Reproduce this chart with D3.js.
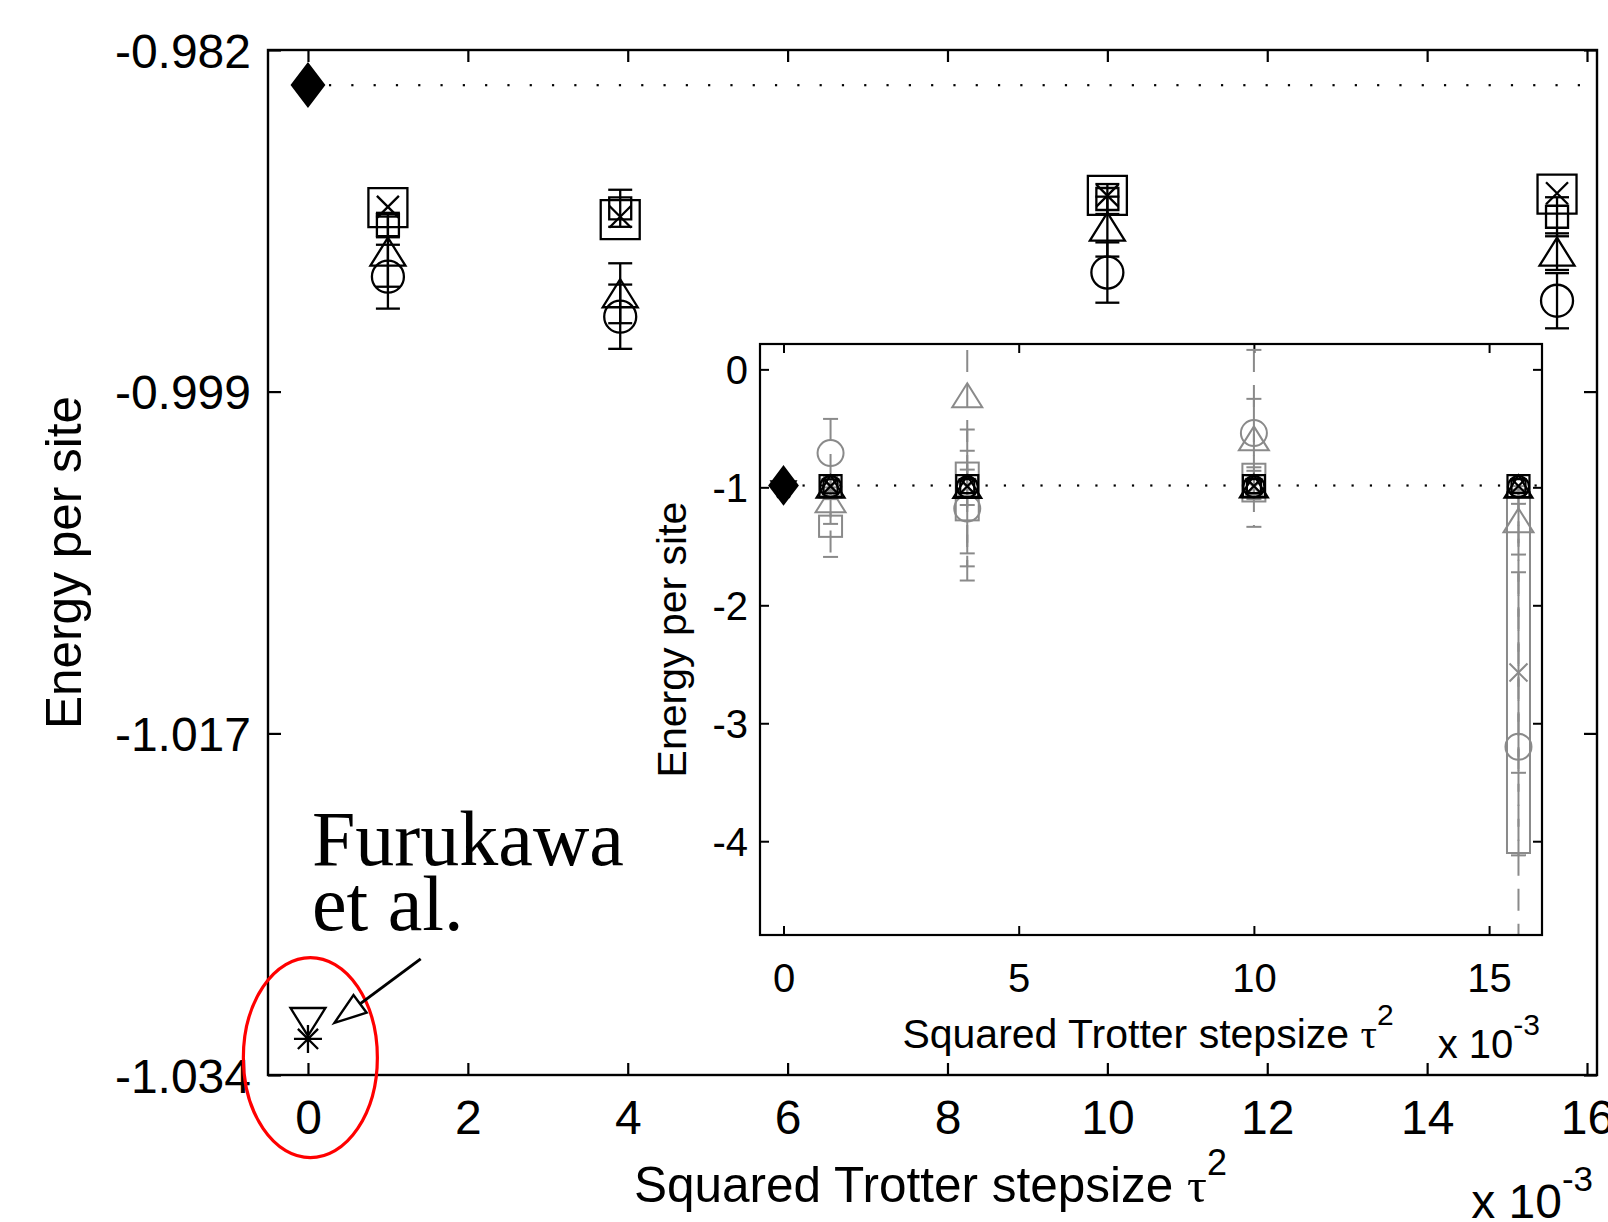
<!DOCTYPE html>
<html>
<head>
<meta charset="utf-8">
<script src="https://cdn.jsdelivr.net/npm/d3@7"></script>
<style>
  body { margin: 0; background: #fff; }
  svg { display: block; font-family: "Liberation Sans", Arial, sans-serif; }
  text { fill: #000; }
</style>
</head>
<body>
<svg id="chart"></svg>
<script>
// ---- data (tau^2 in units of 1e-3, energies per site) ----
const tau2 = [1, 3.906, 10, 15.625];

const bigSquare = [-0.99000, -0.99061, -0.98938, -0.98931];
const crossE = [-0.98996, -0.99046, -0.98939, -0.98927];
const smallSquare = [-0.99088, -0.99003, -0.98956, -0.99046];
const smallSquareErr = [0.00062, 0.00094, 0.00076, 0.00099];
const triangleE = [-0.99223, -0.99434, -0.99096, -0.99223];
const triangleErr = [0.00178, 0.00152, 0.00152, 0.00093];
const circleE = [-0.99350, -0.99553, -0.99329, -0.99472];
const circleErr = [0.00162, 0.00163, 0.00153, 0.00140];

const exactE = -0.98378;          // filled diamond at tau2 = 0
const furukawaTri = -1.03131;     // Furukawa et al.
const furukawaStar = -1.03217;

// inset, grey series
const grayCircle = [-0.71, -1.18, -0.54, -3.20];
const grayCircleErr = [0.29, 0.49, 0.29, 2.06];
const grayTriangle = [-1.11, -0.22, -0.585, -1.28];
const grayTriangleErr = [0.20, 1.57, 0.75, 0.29];
const grayCross = [-1.00, -1.00, -1.00, -2.57];
const grayCrossErr = [0.10, 0.15, 0.10, 1.55];
const graySquare = [-1.33, -1.035, -0.96, -2.57];
const graySquareErr = [0.26, 0.525, 0.10, 0.85];
const grayBoxTop = [-1.24, -0.79, -0.80, -1.04];
const grayBoxBottom = [-1.42, -1.28, -1.12, -4.10];

const mainXTicks = [0, 2, 4, 6, 8, 10, 12, 14, 16];
const mainYTicks = [-0.982, -0.99933, -1.01667, -1.034];
const mainYTickLabels = ['-0.982', '-0.999', '-1.017', '-1.034'];
const insetXTicks = [0, 5, 10, 15];
const insetYTicks = [0, -1, -2, -3, -4];

const W = 1608, H = 1222;
const GRAY = '#8a8a8a';
const serif = '"Liberation Serif", "Times New Roman", serif';

const svg = d3.select('#chart').attr('width', W).attr('height', H);

// ---- marker shapes, size s in px ----
function markerPath(type, s) {
  const h = s / 2;
  if (type === 'circle') return `M${h},0A${h},${h} 0 1,1 ${-h},0A${h},${h} 0 1,1 ${h},0Z`;
  if (type === 'square') return `M${-h},${-h}H${h}V${h}H${-h}Z`;
  if (type === 'triangle') { const t = s * 0.4; return `M0,${-t}L${h},${t}L${-h},${t}Z`; }
  if (type === 'triangleDown') { const t = s * 0.4; return `M0,${t}L${h},${-t}L${-h},${-t}Z`; }
  if (type === 'diamond') { const t = s * 0.66; return `M0,${-t}L${h},0L0,${t}L${-h},0Z`; }
  if (type === 'x') return `M${-h},${-h}L${h},${h}M${-h},${h}L${h},${-h}`;
  if (type === 'asterisk') {
    const d = h * 0.72;
    return `M0,${-h}V${h}M${-h},0H${h}M${-d},${-d}L${d},${d}M${-d},${d}L${d},${-d}`;
  }
  return '';
}

function drawErrorBars(g, xs, ys, errs, x, y, opt) {
  const rows = xs.map((v, i) => ({ x: v, y: ys[i], e: errs[i] }));
  const eb = g.append('g').attr('stroke', opt.color).attr('stroke-width', opt.width).attr('fill', 'none');
  eb.selectAll('line.v').data(rows).join('line').attr('class', 'v')
    .attr('x1', d => x(d.x)).attr('x2', d => x(d.x))
    .attr('y1', d => y(d.y + d.e)).attr('y2', d => y(d.y - d.e))
    .attr('stroke-dasharray', opt.dash || null);
  [1, -1].forEach(sgn => {
    const cls = 'c' + (sgn > 0 ? 'u' : 'd');
    eb.selectAll('line.' + cls).data(rows).join('line').attr('class', cls)
      .attr('x1', d => x(d.x) - opt.cap / 2).attr('x2', d => x(d.x) + opt.cap / 2)
      .attr('y1', d => y(d.y + sgn * d.e)).attr('y2', d => y(d.y + sgn * d.e));
  });
}

function drawMarkers(g, xs, ys, x, y, type, size, opt) {
  g.append('g').selectAll('path').data(xs.map((v, i) => [v, ys[i]])).join('path')
    .attr('transform', d => `translate(${x(d[0])},${y(d[1])})`)
    .attr('d', markerPath(type, size))
    .attr('fill', opt.fill || 'none')
    .attr('stroke', opt.color)
    .attr('stroke-width', opt.width);
}

function dottedLine(g, x0, x1, yv, gap) {
  const n = Math.floor((x1 - x0) / gap);
  g.append('g').selectAll('rect').data(d3.range(n + 1)).join('rect')
    .attr('x', i => x0 + i * gap - 1).attr('y', yv - 1)
    .attr('width', 2.2).attr('height', 2.2).attr('fill', '#000');
}

function styleAxis(a, lw, fs) {
  a.select('.domain').remove();
  a.selectAll('line').attr('stroke', '#000').attr('stroke-width', lw);
  a.selectAll('text').attr('font-size', fs).attr('fill', '#000')
    .style('font-family', '"Liberation Sans", Arial, sans-serif');
}

// ================= main axes =================
const M = { left: 268, right: 1597, top: 50, bottom: 1075 };
const x = d3.scaleLinear().domain([-0.5, 16.125]).range([M.left, M.right]);
const y = d3.scaleLinear().domain([-1.034, -0.982]).range([M.bottom, M.top]);

const main = svg.append('g');
main.append('rect').attr('x', M.left).attr('y', M.top)
  .attr('width', M.right - M.left).attr('height', M.bottom - M.top).attr('fill', '#fff');

// ticks (inward, mirrored)
const axB = main.append('g').attr('transform', `translate(0,${M.bottom})`)
  .call(d3.axisBottom(x).tickValues(mainXTicks).tickSizeInner(-12).tickSizeOuter(0).tickFormat(d => String(d)));
const axT = main.append('g').attr('transform', `translate(0,${M.top})`)
  .call(d3.axisTop(x).tickValues(mainXTicks).tickSizeInner(-12).tickSizeOuter(0).tickFormat(''));
const axL = main.append('g').attr('transform', `translate(${M.left},0)`)
  .call(d3.axisLeft(y).tickValues(mainYTicks).tickSizeInner(-13).tickSizeOuter(0)
    .tickFormat((d, i) => mainYTickLabels[i]).tickPadding(17));
const axR = main.append('g').attr('transform', `translate(${M.right},0)`)
  .call(d3.axisRight(y).tickValues(mainYTicks).tickSizeInner(-13).tickSizeOuter(0).tickFormat(''));
[axB, axT, axL, axR].forEach(a => styleAxis(a, 2.2, 48));
axB.selectAll('text').attr('dy', null).attr('y', 59);
axL.selectAll('text').attr('dy', '0.36em');

// dotted reference line
dottedLine(main, x(0) + 22, M.right - 8, y(exactE), 22.3);

// error bars
const LWm = 2.3;
drawErrorBars(main, tau2, circleE, circleErr, x, y, { color: '#000', width: LWm, cap: 24 });
drawErrorBars(main, tau2, triangleE, triangleErr, x, y, { color: '#000', width: LWm, cap: 24 });
drawErrorBars(main, tau2, smallSquare, smallSquareErr, x, y, { color: '#000', width: LWm, cap: 24 });

// markers
drawMarkers(main, tau2, bigSquare, x, y, 'square', 39, { color: '#000', width: LWm });
drawMarkers(main, tau2, smallSquare, x, y, 'square', 22, { color: '#000', width: LWm });
drawMarkers(main, tau2, crossE, x, y, 'x', 22, { color: '#000', width: LWm });
drawMarkers(main, tau2, triangleE, x, y, 'triangle', 35, { color: '#000', width: LWm });
drawMarkers(main, tau2, circleE, x, y, 'circle', 32, { color: '#000', width: LWm });
drawMarkers(main, [0], [exactE], x, y, 'diamond', 32, { color: '#000', width: LWm, fill: '#000' });
drawMarkers(main, [0], [furukawaTri], x, y, 'triangleDown', 35, { color: '#000', width: LWm });
drawMarkers(main, [0], [furukawaStar], x, y, 'asterisk', 28, { color: '#000', width: LWm });

// frame
main.append('rect').attr('x', M.left).attr('y', M.top)
  .attr('width', M.right - M.left).attr('height', M.bottom - M.top)
  .attr('fill', 'none').attr('stroke', '#000').attr('stroke-width', 2.4);

// labels
main.append('text').attr('transform', `translate(64,${(M.top + M.bottom) / 2}) rotate(-90)`)
  .attr('text-anchor', 'middle').attr('dy', '0.35em').attr('font-size', 49.5).text('Energy per site');
const xl = main.append('text').attr('x', (M.left + M.right) / 2 - 2).attr('y', 1202)
  .attr('text-anchor', 'middle').attr('font-size', 49.5);
xl.append('tspan').text('Squared Trotter stepsize ');
xl.append('tspan').style('font-family', serif).text('\u03c4');
xl.append('tspan').attr('font-size', 36).attr('dy', -27).text('2');
const xm = main.append('text').attr('x', M.right - 4).attr('y', 1218).attr('text-anchor', 'end').attr('font-size', 48);
xm.append('tspan').text('x 10');
xm.append('tspan').attr('font-size', 35).attr('dy', -27).text('-3');

// ---- Furukawa annotation ----
const note = { x: 0.05, line1: -1.02334, line2: -1.02664, tip: [0.33, -1.03136], tail: [1.41, -1.02811], ell: [0.03, -1.03312] };
main.append('ellipse').attr('cx', x(note.ell[0])).attr('cy', y(note.ell[1]))
  .attr('rx', 67).attr('ry', 100).attr('fill', 'none').attr('stroke', '#ff0000').attr('stroke-width', 3.2);
main.append('text').attr('x', x(note.x)).attr('y', y(note.line1)).style('font-family', serif)
  .attr('font-size', 78).text('Furukawa');
main.append('text').attr('x', x(note.x)).attr('y', y(note.line2)).style('font-family', serif)
  .attr('font-size', 78).text('et al.');
{
  const tx = x(note.tip[0]), ty = y(note.tip[1]);
  const sx = x(note.tail[0]), sy = y(note.tail[1]);
  const ang = Math.atan2(sy - ty, sx - tx);
  const L = 32, Wd = 11;
  const bx = tx + L * Math.cos(ang), by = ty + L * Math.sin(ang);
  const px = -Math.sin(ang) * Wd, py = Math.cos(ang) * Wd;
  main.append('line').attr('x1', sx).attr('y1', sy).attr('x2', bx).attr('y2', by)
    .attr('stroke', '#000').attr('stroke-width', 3);
  main.append('path').attr('d', `M${tx},${ty}L${bx + px},${by + py}L${bx - px},${by - py}Z`)
    .attr('fill', '#fff').attr('stroke', '#000').attr('stroke-width', 2.4);
}

// ================= inset =================
const I = { left: 760, right: 1542, top: 344, bottom: 935 };
const xi = d3.scaleLinear().domain([-0.5, 16.125]).range([I.left, I.right]);
const yi = d3.scaleLinear().domain([-4.795, 0.215]).range([I.bottom, I.top]);

const inset = svg.append('g');
inset.append('rect').attr('x', I.left).attr('y', I.top)
  .attr('width', I.right - I.left).attr('height', I.bottom - I.top).attr('fill', '#fff');
svg.append('clipPath').attr('id', 'iclip').append('rect')
  .attr('x', I.left).attr('y', I.top).attr('width', I.right - I.left).attr('height', I.bottom - I.top);

const iaB = inset.append('g').attr('transform', `translate(0,${I.bottom})`)
  .call(d3.axisBottom(xi).tickValues(insetXTicks).tickSizeInner(-9).tickSizeOuter(0).tickFormat(d => String(d)));
const iaT = inset.append('g').attr('transform', `translate(0,${I.top})`)
  .call(d3.axisTop(xi).tickValues(insetXTicks).tickSizeInner(-9).tickSizeOuter(0).tickFormat(''));
const iaL = inset.append('g').attr('transform', `translate(${I.left},0)`)
  .call(d3.axisLeft(yi).tickValues(insetYTicks).tickSizeInner(-9).tickSizeOuter(0).tickFormat(d => String(d)).tickPadding(12));
const iaR = inset.append('g').attr('transform', `translate(${I.right},0)`)
  .call(d3.axisRight(yi).tickValues(insetYTicks).tickSizeInner(-9).tickSizeOuter(0).tickFormat(''));
[iaB, iaT, iaL, iaR].forEach(a => styleAxis(a, 2, 40));
iaB.selectAll('text').attr('dy', null).attr('y', 57);
iaL.selectAll('text').attr('dy', '0.36em');

const plotI = inset.append('g').attr('clip-path', 'url(#iclip)');
dottedLine(plotI, xi(0) + 20, I.right - 6, yi(exactE), 18.3);

// grey series with dashed error bars
const LWg = 2;
const dashOpt = { color: GRAY, width: LWg, cap: 15, dash: '22,13' };
drawErrorBars(plotI, tau2, grayTriangle, grayTriangleErr, xi, yi, dashOpt);
drawErrorBars(plotI, tau2, grayCircle, grayCircleErr, xi, yi, dashOpt);
drawErrorBars(plotI, tau2, grayCross, grayCrossErr, xi, yi, dashOpt);
drawErrorBars(plotI, tau2, graySquare, graySquareErr, xi, yi, dashOpt);
plotI.append('g').selectAll('rect').data(tau2.map((v, i) => [v, grayBoxTop[i], grayBoxBottom[i]])).join('rect')
  .attr('x', d => xi(d[0]) - 11.5).attr('width', 23)
  .attr('y', d => yi(d[1])).attr('height', d => yi(d[2]) - yi(d[1]))
  .attr('fill', 'none').attr('stroke', GRAY).attr('stroke-width', LWg);
drawMarkers(plotI, tau2, grayCircle, xi, yi, 'circle', 26, { color: GRAY, width: LWg });
drawMarkers(plotI, tau2, grayTriangle, xi, yi, 'triangle', 30, { color: GRAY, width: LWg });
drawMarkers(plotI, tau2, grayCross, xi, yi, 'x', 18, { color: GRAY, width: LWg });

// black series (main data) at inset scale
const LWi = 2.2;
drawMarkers(plotI, tau2, bigSquare, xi, yi, 'square', 22, { color: '#000', width: LWi });
drawMarkers(plotI, tau2, smallSquare, xi, yi, 'square', 14, { color: '#000', width: LWi });
drawMarkers(plotI, tau2, crossE, xi, yi, 'x', 15, { color: '#000', width: LWi });
drawMarkers(plotI, tau2, triangleE, xi, yi, 'triangle', 28, { color: '#000', width: LWi });
drawMarkers(plotI, tau2, circleE, xi, yi, 'circle', 21, { color: '#000', width: LWi });
drawMarkers(plotI, [0], [furukawaTri], xi, yi, 'triangleDown', 24, { color: '#000', width: LWi });
drawMarkers(plotI, [0], [furukawaStar], xi, yi, 'asterisk', 18, { color: '#000', width: LWi });
drawMarkers(plotI, [0], [exactE], xi, yi, 'diamond', 28, { color: '#000', width: LWi, fill: '#000' });

inset.append('rect').attr('x', I.left).attr('y', I.top)
  .attr('width', I.right - I.left).attr('height', I.bottom - I.top)
  .attr('fill', 'none').attr('stroke', '#000').attr('stroke-width', 2.2);

inset.append('text').attr('transform', `translate(672,${(I.top + I.bottom) / 2}) rotate(-90)`)
  .attr('text-anchor', 'middle').attr('dy', '0.35em').attr('font-size', 41).text('Energy per site');
const ixl = inset.append('text').attr('x', (I.left + I.right) / 2 - 3).attr('y', 1048)
  .attr('text-anchor', 'middle').attr('font-size', 41);
ixl.append('tspan').text('Squared Trotter stepsize ');
ixl.append('tspan').style('font-family', serif).text('\u03c4');
ixl.append('tspan').attr('font-size', 30).attr('dy', -23).text('2');
const ixm = inset.append('text').attr('x', I.right - 2).attr('y', 1058).attr('text-anchor', 'end').attr('font-size', 40);
ixm.append('tspan').text('x 10');
ixm.append('tspan').attr('font-size', 30).attr('dy', -23).text('-3');
</script>
</body>
</html>
